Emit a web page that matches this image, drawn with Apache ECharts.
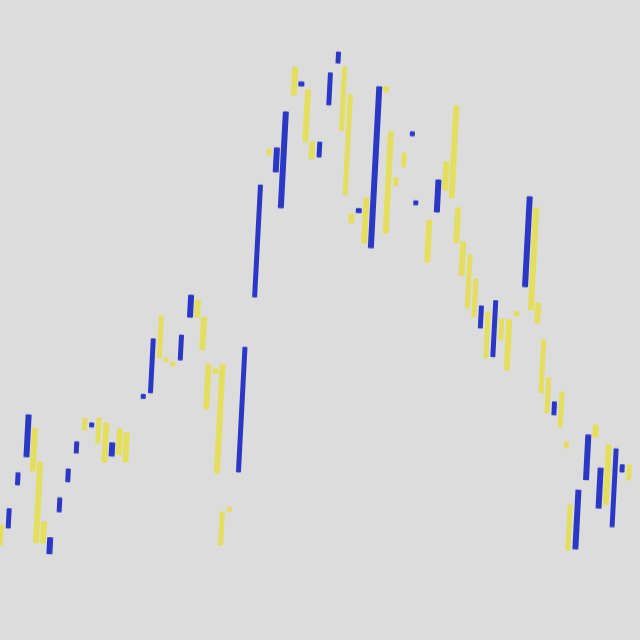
<!DOCTYPE html>
<html>
<head>
<meta charset="utf-8">
<script src="https://cdn.jsdelivr.net/npm/echarts@6/dist/echarts.min.js"></script>
<style>
html,body{margin:0;padding:0;width:640px;height:640px;overflow:hidden;background:#dcdcdc;}
#chart{position:absolute;left:0;top:0;width:640px;height:640px;background:#dcdcdc;transform:rotate(3deg);}
</style>
</head>
<body>
<div id="chart"></div>
<script>
// Candle bodies (blue = rising, yellow = falling); null = no candle
const opens = [
  24.7, 24.0, 34.9, 42.0, 49.3, 40.9, 26.0, 18.1, 28.7, 36.3,
  43.6, 52.4, 50.3, 52.7, 51.5, 43.3, 50.2, 49.3, null, 58.1,
  59.6, 78.9, 68.6, 67.6, 68.2, 79.0, 83.4, 79.2, 67.5, 66.4,
  67.7, 30.8, 32.1, 41.0, 84.9, 122.0, 116.4, 107.5, 142.8, 138.2,
  137.3, 124.4, 120.7, 133.8, 144.4, 143.5, 136.6, 106.9, 107.3, 111.1,
  98.7, 139.1, 127.9, 116.5, 122.8, 127.2, 110.0, null, 106.4, 108.5,
  121.1, 135.2, 109.8, 101.4, 98.2, 92.3, 80.1, 84.2, 73.1, 82.7,
  82.5, 84.6, 91.0, 110.8, 87.1, 78.0, 68.5, 59.4, 65.2, 52.8,
  37.1, 26.2, 43.6, 57.4, 36.7, 52.6, 32.2, 46.0, 47.9
];
const closes = [
  19.7, 28.8, 37.9, 52.5, 38.6, 20.7, 20.7, 22.1, 32.2, 39.5,
  46.4, 49.4, 51.3, 46.4, 41.7, 46.6, 43.7, 42.0, null, 59.1,
  73.1, 68.4, 67.6, 66.6, 74.4, 84.5, 79.1, 71.0, 56.3, 65.4,
  40.5, 22.5, 31.1, 72.2, 112.9, 120.5, 122.4, 131.5, 135.8, 139.2,
  124.3, 120.1, 124.4, 141.8, 147.1, 127.5, 111.6, 104.7, 108.3, 99.8,
  139.0, 137.8, 102.6, 114.5, 119.3, 128.2, 111.0, null, 95.9, 116.5,
  114.1, 112.2, 101.1, 92.9, 84.9, 82.8, 85.6, 72.7, 87.1, 77.4,
  70.0, 83.6, 113.5, 85.3, 82.1, 64.7, 59.8, 62.6, 56.5, 51.3,
  25.8, 40.9, 54.8, 54.4, 46.7, 37.6, 51.7, 47.8, 44.1
];
const categories = opens.map((_, i) => String(i + 1));

const upColor = '#2b38c6';
const downColor = '#e4de5e';

const candles = opens.map((o, i) => {
  const c = closes[i];
  if (o === null || c === null) return '-';
  return [o, c, Math.min(o, c), Math.max(o, c)];
});

const chart = echarts.init(document.getElementById('chart'), null, {renderer: 'canvas'});
chart.setOption({
  animation: false,
  backgroundColor: '#dcdcdc',
  grid: {left: 9, width: 632, top: 0, height: 640},
  xAxis: {type: 'category', data: categories, show: false, boundaryGap: true},
  yAxis: {type: 'value', min: 0, max: 160, show: false},
  series: [{
    type: 'candlestick',
    data: candles,
    barWidth: 5,
    itemStyle: {
      color: upColor,
      color0: downColor,
      borderColor: upColor,
      borderColor0: downColor,
      borderWidth: 1
    }
  }]
});
</script>
</body>
</html>
